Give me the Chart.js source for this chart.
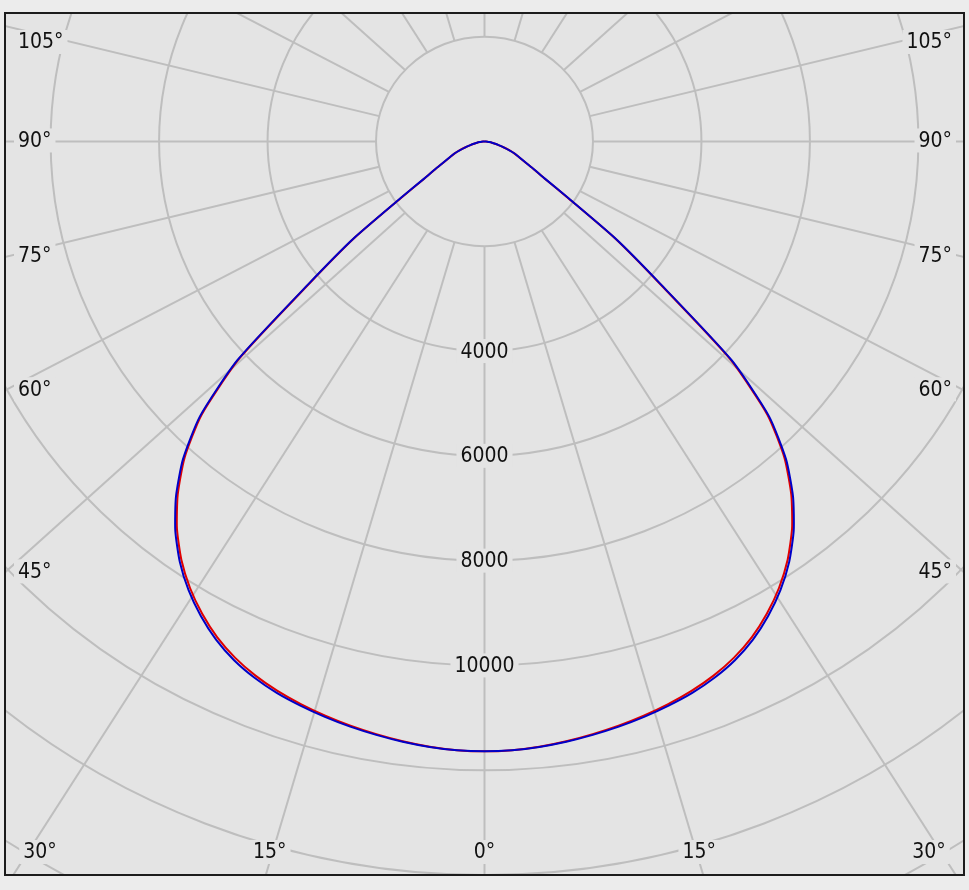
<!DOCTYPE html>
<html>
<head>
<meta charset="utf-8">
<title>Luminous intensity distribution</title>
<script src="https://cdn.jsdelivr.net/npm/chart.js@4.4.0/dist/chart.umd.min.js"></script>
<style>
  html, body { margin: 0; padding: 0; background: #ececec; }
  #wrap { width: 969px; height: 890px; }
</style>
</head>
<body>
<div id="wrap"><canvas id="polar" width="969" height="890"></canvas></div>
<script>
// gamma angle from nadir (deg), one half of each curve, mirrored for the other half
const gammaAngles = [0, 2.5, 5, 7.5, 10, 12.5, 15, 17.5, 20, 22.5, 25, 27.5, 30, 32.5, 35, 37.5, 40, 42.5,
  45, 47.5, 50, 52.5, 55, 57.5, 60, 62.5, 65, 67.5, 70, 72.5, 75, 77.5, 80, 82.5, 85, 87.5, 90];

// luminous intensity (cd)
const intensityBlue = [11640, 11630, 11600, 11555, 11500, 11440, 11370, 11290, 11200, 11080, 10925, 10720,
  10460, 10155, 9795, 9365, 8850, 8230, 7420, 6180, 4250, 3050, 1900, 1320, 1040, 830, 700, 600, 480, 370,
  270, 200, 140, 90, 55, 25, 0];
const intensityRed = [11640, 11628, 11595, 11545, 11485, 11420, 11345, 11260, 11160, 11035, 10875, 10670,
  10410, 10105, 9745, 9315, 8800, 8185, 7380, 6130, 4210, 3020, 1880, 1305, 1030, 820, 692, 594, 475, 366,
  267, 198, 138, 89, 54, 25, 0];

// grid
const ringValues = [2000, 4000, 6000, 8000, 10000, 12000, 14000, 16000, 18000, 20000];
const ringTickValues = [4000, 6000, 8000, 10000];
const ringTickLabels = ['4000', '6000', '8000', '10000'];
const rayAngles = [0, 15, 30, 45, 60, 75, 90, 105, 120, 135, 150, 165, 180,
  -15, -30, -45, -60, -75, -90, -105, -120, -135, -150, -165];

const plotBg = '#e4e4e4';
const gridColor = '#bebebe';
const labelFont = '21px "DejaVu Sans Condensed", "DejaVu Sans", sans-serif';
const rayStretch = 1.075;

function toXY(deg, v) {
  const a = deg * Math.PI / 180;
  return { x: v * Math.sin(a), y: -v * Math.cos(a) };
}

function curvePoints(values) {
  const pts = [];
  for (let i = gammaAngles.length - 1; i > 0; i--) pts.push(toXY(-gammaAngles[i], values[i]));
  for (let i = 0; i < gammaAngles.length; i++) pts.push(toXY(gammaAngles[i], values[i]));
  return pts;
}

function drawLabel(ctx, text, px, py, align) {
  ctx.font = labelFont;
  const w = ctx.measureText(text).width;
  let left = px;
  if (align === 'center') left = px - w / 2;
  if (align === 'right') left = px - w;
  ctx.fillStyle = plotBg;
  ctx.fillRect(left - 4, py - 12, w + 8, 24);
  ctx.fillStyle = '#111';
  ctx.textAlign = align;
  ctx.textBaseline = 'middle';
  ctx.fillText(text, px, py + 1);
}

const polarGrid = {
  id: 'polarGrid',
  beforeDatasetsDraw(chart) {
    const { ctx, chartArea: area, scales: { x, y } } = chart;
    const cx = x.getPixelForValue(0);
    const cy = y.getPixelForValue(0);
    ctx.save();
    ctx.fillStyle = plotBg;
    ctx.fillRect(area.left, area.top, area.right - area.left, area.bottom - area.top);
    ctx.beginPath();
    ctx.rect(area.left, area.top, area.right - area.left, area.bottom - area.top);
    ctx.clip();

    ctx.strokeStyle = gridColor;
    ctx.lineWidth = 2;
    ringValues.forEach(v => {
      ctx.beginPath();
      ctx.ellipse(cx, cy, x.getPixelForValue(v) - cx, y.getPixelForValue(-v) - cy, 0, 0, 2 * Math.PI);
      ctx.stroke();
    });

    const labels = [];
    rayAngles.forEach(deg => {
      const a = deg * Math.PI / 180;
      const dx = Math.sin(a) * rayStretch, dy = -Math.cos(a);
      const n = Math.hypot(dx, dy);
      const ux = dx / n, uy = dy / n;
      const r0 = ringValues[0];
      ctx.beginPath();
      ctx.moveTo(x.getPixelForValue(ux * r0), y.getPixelForValue(uy * r0));
      ctx.lineTo(x.getPixelForValue(ux * 40000), y.getPixelForValue(uy * 40000));
      ctx.stroke();

      // which frame edge the ray meets
      const pdx = x.getPixelForValue(ux * 1000) - cx;
      const pdy = y.getPixelForValue(uy * 1000) - cy;
      const hits = [];
      if (pdx < -1e-6) hits.push({ edge: 'left', t: (area.left - cx) / pdx });
      if (pdx > 1e-6) hits.push({ edge: 'right', t: (area.right - cx) / pdx });
      if (pdy > 1e-6) hits.push({ edge: 'bottom', t: (area.bottom - cy) / pdy });
      if (pdy < -1e-6) hits.push({ edge: 'top', t: (area.top - cy) / pdy });
      hits.sort((p, q) => p.t - q.t);
      const hit = hits[0];
      if (hit.edge === 'top') return;
      const hx = cx + pdx * hit.t, hy = cy + pdy * hit.t;
      const text = Math.abs(deg) + '°';
      if (hit.edge === 'left') labels.push([text, area.left + 13, Math.max(hy - 1, area.top + 29), 'left']);
      if (hit.edge === 'right') labels.push([text, area.right - 12, Math.max(hy - 1, area.top + 29), 'right']);
      if (hit.edge === 'bottom') {
        const lx = Math.min(Math.max(hx - 4 * Math.sign(hx - cx), area.left + 35), area.right - 35);
        labels.push([text, lx, area.bottom - 23, 'center']);
      }
    });

    ringTickValues.forEach((v, i) => {
      drawLabel(ctx, ringTickLabels[i], cx, y.getPixelForValue(-v), 'center');
    });
    labels.forEach(l => drawLabel(ctx, l[0], l[1], l[2], l[3]));
    ctx.restore();
  },
  afterDraw(chart) {
    const { ctx, chartArea: area } = chart;
    ctx.save();
    ctx.strokeStyle = '#1c1c1c';
    ctx.lineWidth = 2;
    ctx.strokeRect(area.left, area.top, area.right - area.left, area.bottom - area.top);
    ctx.restore();
  }
};

new Chart(document.getElementById('polar').getContext('2d'), {
  type: 'scatter',
  data: {
    datasets: [{
      label: 'C90-C270',
      data: curvePoints(intensityBlue),
      showLine: true,
      borderColor: '#0000c8',
      borderWidth: 2,
      pointRadius: 0,
      tension: 0.2,
      fill: false,
    }, {
      label: 'C0-C180',
      data: curvePoints(intensityRed),
      showLine: true,
      borderColor: '#e00000',
      borderWidth: 2,
      pointRadius: 0,
      tension: 0.2,
      fill: false,
    }],
  },
  options: {
    responsive: false,
    animation: false,
    layout: { padding: { left: 5, top: 13, right: 5, bottom: 15 } },
    scales: {
      x: { type: 'linear', min: -8841, max: 8841, display: false },
      y: { type: 'linear', min: -14000, max: 2452, display: false },
    },
    plugins: {
      legend: { display: false },
      tooltip: { enabled: false },
    },
  },
  plugins: [polarGrid],
});
</script>
</body>
</html>
